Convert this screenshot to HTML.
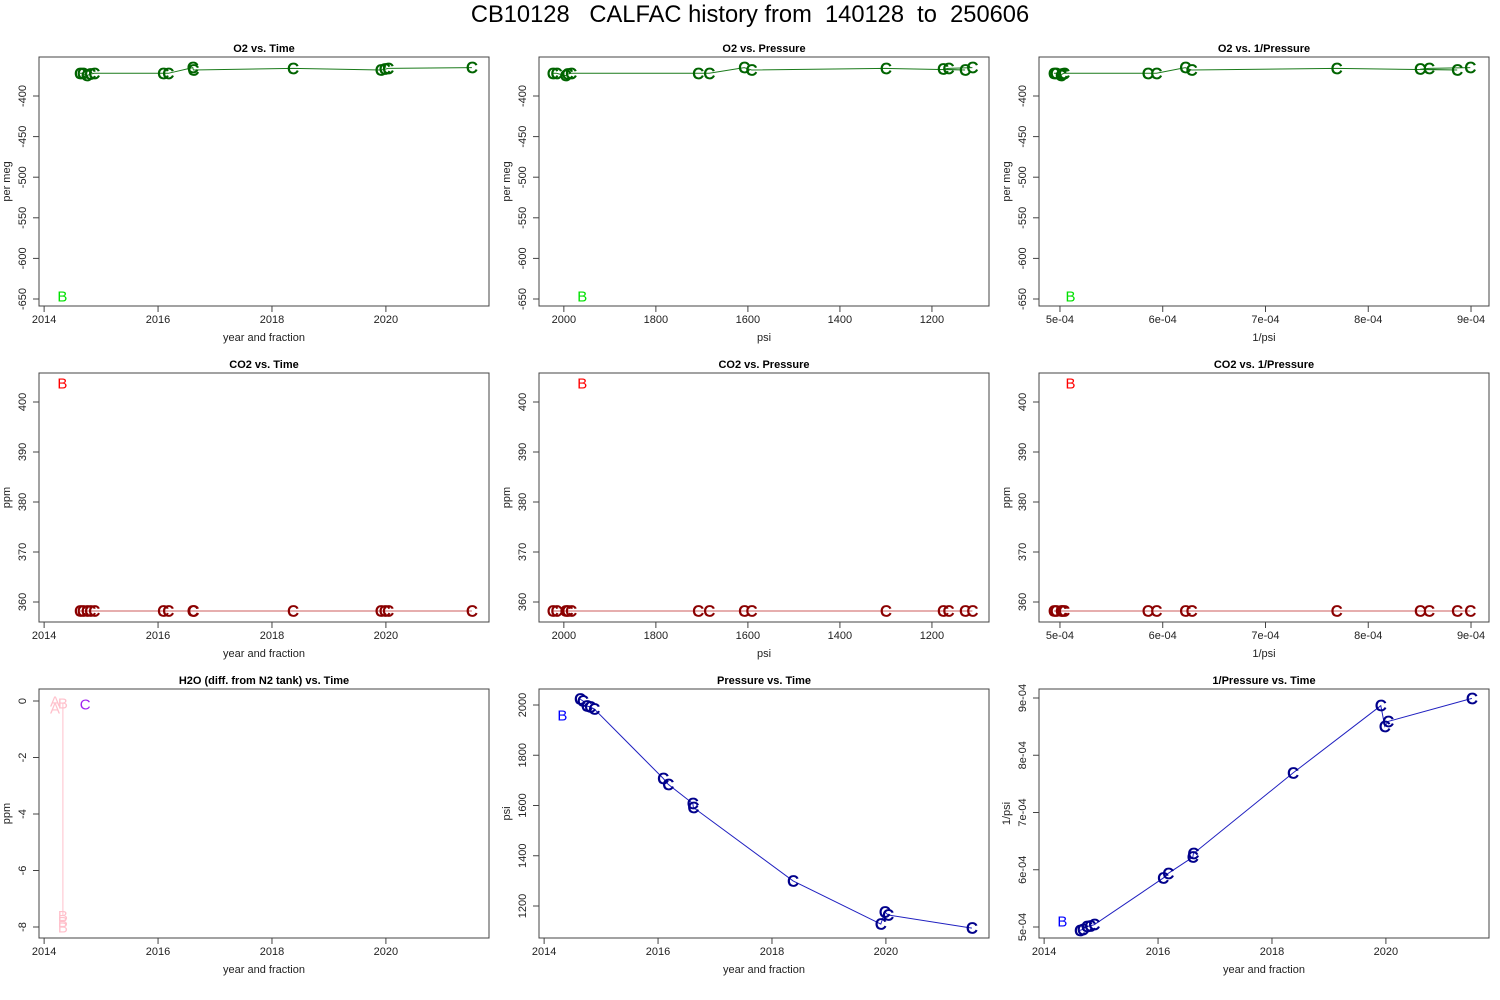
<!DOCTYPE html>
<html><head><meta charset="utf-8"><style>
html,body{margin:0;padding:0;background:#fff;}
svg{display:block;font-family:"Liberation Sans",Arial,sans-serif;}
</style></head><body>
<svg id="chart" width="1500" height="1000" viewBox="0 0 1500 1000" xmlns="http://www.w3.org/2000/svg">
<text x="750" y="22" text-anchor="middle" font-size="23.7" fill="#000" xml:space="preserve">CB10128   CALFAC history from  140128  to  250606</text>
</svg>
<script>
// ---- data ----
const cYears = [2014.63,2014.68,2014.75,2014.81,2014.88,2016.09,2016.18,2016.61,2016.62,2018.37,2019.91,2019.98,2020.04,2021.51];
const cPressure = [2024,2016,1996,1992,1984,1708,1684,1608,1592,1300,1128,1176,1164,1112];
const cO2 = [-372,-372,-375,-373,-372,-372,-372,-365,-368,-366,-368,-367,-366,-365];
const cCO2 = [358.2,358.2,358.2,358.2,358.2,358.2,358.2,358.2,358.2,358.2,358.2,358.2,358.2,358.2];
const bYear = 2014.32, bPressure = 1960, bO2 = -646, bCO2 = 403.8;
const h2oAYears = [2014.19,2014.19];
const h2oAValues = [0.0,-0.25];
const h2oBYears = [2014.33,2014.33,2014.33,2014.33];
const h2oBValues = [-0.07,-7.6,-7.8,-8.0];
const h2oCYears = [2014.72];
const h2oCValues = [-0.1];
const timeTicks = [2014,2016,2018,2020];
const pressTicks = [2000,1800,1600,1400,1200];
const invTicks = [5e-4,6e-4,7e-4,8e-4,9e-4];
const invTickLabels = ["5e-04","6e-04","7e-04","8e-04","9e-04"];
const o2Ticks = [-400,-450,-500,-550,-600,-650];
const co2Ticks = [360,370,380,390,400];
const h2oTicks = [0,-2,-4,-6,-8];
const pressYTicks = [1200,1400,1600,1800,2000];

const NS = "http://www.w3.org/2000/svg";
const svg = document.getElementById('chart');
function mk(tag, attrs, parent){const e=document.createElementNS(NS,tag);for(const k in attrs)e.setAttribute(k,attrs[k]);(parent||svg).appendChild(e);return e;}
function lin(d0,d1,r0,r1){return v=>r0+(v-d0)*(r1-r0)/(d1-d0);}

const cols=[39,539,1039], rows=[57,373,689], W=450, H=249;
const timeX = off => lin(2013.91,2021.81,off,off+W);
const pressX = off => lin(2054,1076,off,off+W);
const invX = off => lin(4.796e-4,9.175e-4,off,off+W);

function panel(name,col,row,title,xs,xTicks,xLabels,xTitle,ys,yTicks,yLabels,yTitle){
  const x0=cols[col], y0=rows[row];
  const g=mk('g',{});
  
  
  const box=mk('rect',{x:x0,y:y0,width:W,height:H,fill:'none',stroke:'#444','stroke-width':1},g);
  
  
  const t=mk('text',{x:x0+W/2,y:y0-5,'text-anchor':'middle','font-size':11,'font-weight':'bold'},g);
  t.textContent=title;
  
  
  const xa=mk('g',{},g);
  
  
  const xp=xTicks.map(xs);
  mk('line',{x1:Math.min(...xp),x2:Math.max(...xp),y1:y0+H,y2:y0+H,stroke:'#444'},xa);
  xTicks.forEach((v,i)=>{const px=xs(v);
    mk('line',{x1:px,x2:px,y1:y0+H,y2:y0+H+6,stroke:'#444'},xa);
    const l=mk('text',{x:px,y:y0+H+17,'text-anchor':'middle','font-size':11,fill:'#222'},xa);l.textContent=xLabels[i];
    
    
  });
  const xt=mk('text',{x:x0+W/2,y:y0+H+35,'text-anchor':'middle','font-size':11,fill:'#222'},g);xt.textContent=xTitle;
  
  
  const ya=mk('g',{},g);
  
  
  const yp=yTicks.map(ys);
  mk('line',{x1:x0,x2:x0,y1:Math.min(...yp),y2:Math.max(...yp),stroke:'#444'},ya);
  yTicks.forEach((v,i)=>{const py=ys(v);
    mk('line',{x1:x0-6,x2:x0,y1:py,y2:py,stroke:'#444'},ya);
    const l=mk('text',{x:0,y:0,'text-anchor':'middle','font-size':11,fill:'#222',transform:`translate(${x0-13},${py}) rotate(-90)`},ya);l.textContent=yLabels[i];
    
    
  });
  const yt=mk('text',{x:0,y:0,'text-anchor':'middle','font-size':11,fill:'#222',transform:`translate(${x0-29},${y0+H/2}) rotate(-90)`},g);yt.textContent=yTitle;
  
  
  return g;
}
function line(g,xs,ys,xv,yv,color,name){
  const d=xv.map((v,i)=>(i?'L':'M')+xs(v).toFixed(1)+','+ys(yv[i]).toFixed(1)).join('');
  const p=mk('path',{d:d,fill:'none',stroke:color,'stroke-width':1},g);
  
  
}
function marks(g,xs,ys,xv,yv,ch,color,name,size,bold){
  xv.forEach((v,i)=>{
    const t=mk('text',{x:xs(v),y:ys(yv[i])+5.5,'text-anchor':'middle','font-size':size||16,fill:color,stroke:color,'stroke-width':bold===false?0:0.7},g);
    t.textContent=ch;
    
    
  });
}
const tl=timeTicks.map(String), pl=pressTicks.map(String);
const inv=cPressure.map(p=>1/p), bInv=1/bPressure;

// O2 row
const o2Y=lin(-400,-650,96,299);
[[0,timeX(cols[0]),cYears,bYear,timeTicks,tl,'year and fraction','O2 vs. Time','o2-vs-time'],
 [1,pressX(cols[1]),cPressure,bPressure,pressTicks,pl,'psi','O2 vs. Pressure','o2-vs-pressure'],
 [2,invX(cols[2]),inv,bInv,invTicks,invTickLabels,'1/psi','O2 vs. 1/Pressure','o2-vs-inv-pressure']].forEach(c=>{
  const [col,xs,xv,bx,xt,xl,xtitle,title,name]=c;
  const g=panel(name,col,0,title,xs,xt,xl,xtitle,o2Y,o2Ticks,o2Ticks.map(String),'per meg');
  line(g,xs,o2Y,xv,cO2,'#1a7a1a','o2-line');
  marks(g,xs,o2Y,xv,cO2,'C','#006400','o2-point-c');
  marks(g,xs,o2Y,[bx],[bO2],'B','#00e000','o2-point-b',15,false);
});
// CO2 row
const co2Y=lin(360,400,602,402);
[[0,timeX(cols[0]),cYears,bYear,timeTicks,tl,'year and fraction','CO2 vs. Time','co2-vs-time'],
 [1,pressX(cols[1]),cPressure,bPressure,pressTicks,pl,'psi','CO2 vs. Pressure','co2-vs-pressure'],
 [2,invX(cols[2]),inv,bInv,invTicks,invTickLabels,'1/psi','CO2 vs. 1/Pressure','co2-vs-inv-pressure']].forEach(c=>{
  const [col,xs,xv,bx,xt,xl,xtitle,title,name]=c;
  const g=panel(name,col,1,title,xs,xt,xl,xtitle,co2Y,co2Ticks,co2Ticks.map(String),'ppm');
  line(g,xs,co2Y,xv,cCO2,'#cd5c5c','co2-line');
  marks(g,xs,co2Y,xv,cCO2,'C','#8b0000','co2-point-c');
  marks(g,xs,co2Y,[bx],[bCO2],'B','#ff0000','co2-point-b',15,false);
});
// H2O
const h2oY=lin(0,-8,701,927), tx0=timeX(cols[0]);
let g=panel('h2o-vs-time',0,2,'H2O (diff. from N2 tank) vs. Time',tx0,timeTicks,tl,'year and fraction',h2oY,h2oTicks,h2oTicks.map(String),'ppm');
line(g,tx0,h2oY,[h2oBYears[0],h2oBYears[1]],[h2oBValues[0],h2oBValues[1]],'#ffc0cb','h2o-line');
marks(g,tx0,h2oY,h2oAYears,h2oAValues,'A','#ffc0cb','h2o-point-a',15,false);
marks(g,tx0,h2oY,h2oBYears,h2oBValues,'B','#ffc0cb','h2o-point-b',15,false);
marks(g,tx0,h2oY,h2oCYears,h2oCValues,'C','#a020f0','h2o-point-c',15,false);
// Pressure vs time
const pY=lin(2000,1200,705,906), tx1=timeX(cols[1]);
g=panel('pressure-vs-time',1,2,'Pressure vs. Time',tx1,timeTicks,tl,'year and fraction',pY,pressYTicks,pressYTicks.map(String),'psi');
line(g,tx1,pY,cYears,cPressure,'#2020c0','pressure-line');
marks(g,tx1,pY,cYears,cPressure,'C','#00008b','pressure-point-c');
marks(g,tx1,pY,[bYear],[bPressure],'B','#0000ff','pressure-point-b',15,false);
// 1/Pressure vs time
const iY=lin(5e-4,9e-4,927,698), tx2=timeX(cols[2]);
g=panel('inv-pressure-vs-time',2,2,'1/Pressure vs. Time',tx2,timeTicks,tl,'year and fraction',iY,invTicks,invTickLabels,'1/psi');
line(g,tx2,iY,cYears,inv,'#2020c0','inv-pressure-line');
marks(g,tx2,iY,cYears,inv,'C','#00008b','inv-pressure-point-c');
marks(g,tx2,iY,[bYear],[bInv],'B','#0000ff','inv-pressure-point-b',15,false);
</script>
</body></html>
